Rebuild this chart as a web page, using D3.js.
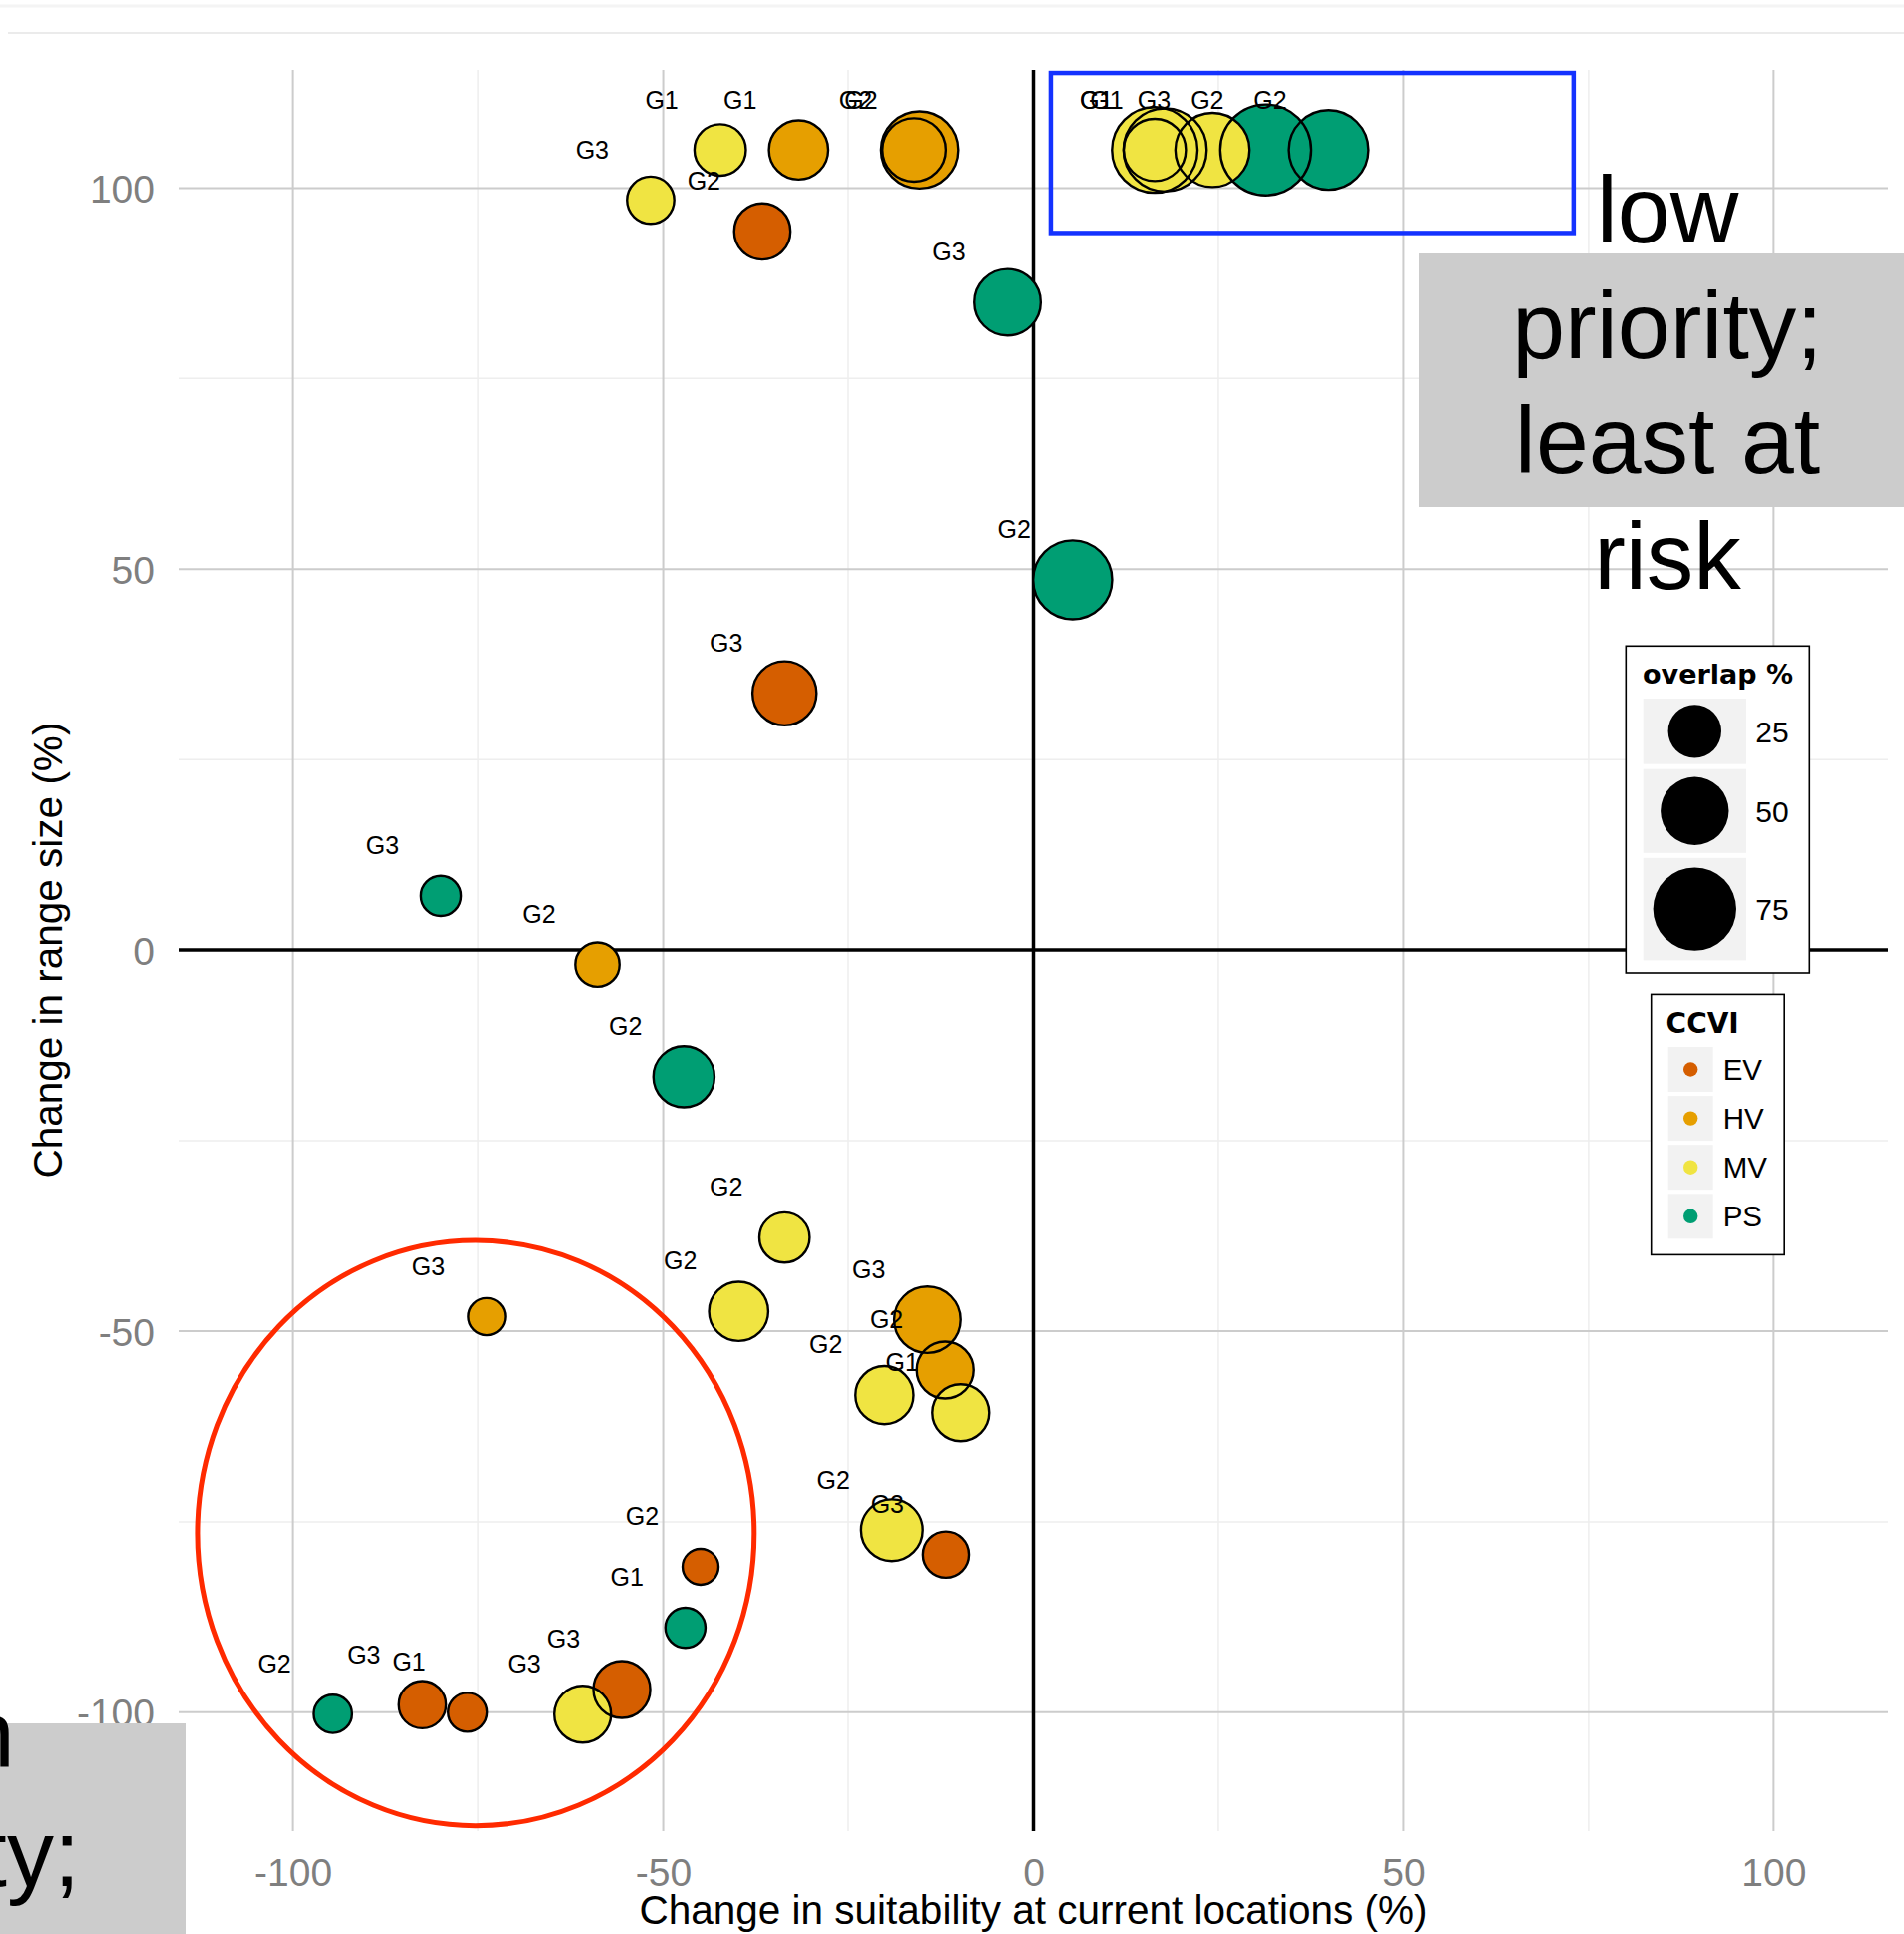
<!DOCTYPE html>
<html><head><meta charset="utf-8">
<script src="https://cdn.jsdelivr.net/npm/d3@7"></script>
<style>body{margin:0;background:#fff;} svg{display:block;}</style>
</head><body>
<svg id="c" width="1908" height="1938"></svg>
<script>
// ---------- data ----------
const suitChange = [-51.7,-42.3,-31.7,-36.6,-15.35,-16.1,-3.5,5.3,-33.6,-80,-58.9,-47.2,-33.6,-39.8,-73.8,-14.3,-11.9,-20.1,-9.8,-19.1,-11.8,-44.95,-47,-55.6,-60.9,-76.4,-82.5,-94.6,39.9,31.4,24.2,17.8,16.4,16.4];
const rangeChange = [98.4,105,105,94.3,105,105,85,48.6,33.7,7.1,-1.9,-16.6,-37.7,-47.4,-48.1,-48.5,-55.1,-58.4,-60.7,-76.1,-79.3,-80.9,-88.9,-97,-100.25,-100,-99,-100.2,105,105,105,105,105,105];
const ccviClass = ["MV","MV","HV","EV","HV","HV","PS","PS","EV","PS","HV","PS","MV","MV","HV","HV","HV","MV","MV","MV","EV","EV","PS","EV","MV","EV","EV","PS","PS","PS","MV","MV","MV","MV"];
const overlapPct = [19,26,39,34,69,46,51,72,47,7,14,42,24,39,2,51,35,37,35,43,17,0,7,35,35,5,19,4,73,92,64,79,83,44];
const groupLabel = ["G3","G1","G1","G2","G2","G2","G3","G2","G3","G3","G2","G2","G2","G2","G3","G3","G2","G2","G1","G2","G3","G2","G1","G3","G3","G1","G3","G2","G2","G2","G3","G1","G1","G1"];

const ccviCategories = ["EV","HV","MV","PS"];
const ccviColors = ["#D55E00","#E69F00","#F0E442","#009E73"];
const sizeBreaks = [25,50,75];
const xTicks = [-100,-50,0,50,100];
const yTicks = [-100,-50,0,50,100];
const xMinor = [-75,-25,25,75];
const yMinor = [-75,-25,25,75];

const lowNote = ["low","priority;","least at","risk"];
const highNote = ["high","priority;","most at","risk"];

// ---------- setup ----------
const FONT = "'Liberation Sans', Arial, Helvetica, sans-serif";
const BOLD = "'DejaVu Sans', Verdana, sans-serif";
const svg = d3.select("#c");
const L = 179, R = 1892, T = 70, B = 1835;
const x = d3.scaleLinear().domain([-115.45, 115.45]).range([L, R]);
const y = d3.scaleLinear().domain([-115.6, 115.5]).range([B, T]);
const rScale = d3.scaleLinear().domain([0, 100]).range([19.2, 49.2]);
const color = d3.scaleOrdinal().domain(ccviCategories).range(ccviColors);
const fmt = d => String(d);

const pts = suitChange.map((v, i) => ({x: v, y: rangeChange[i], c: ccviClass[i], s: overlapPct[i], lab: groupLabel[i]}));

// faint top artifacts
svg.append("line").attr("x1", 0).attr("x2", 1908).attr("y1", 6).attr("y2", 6).attr("stroke", "#f4f4f4").attr("stroke-width", 3);
svg.append("line").attr("x1", 8).attr("x2", 1908).attr("y1", 33).attr("y2", 33).attr("stroke", "#ebebeb").attr("stroke-width", 2);

// ---------- grid ----------
const g = svg.append("g");
g.selectAll(".vmin").data(xMinor).join("line").attr("x1", d => x(d)).attr("x2", d => x(d)).attr("y1", T).attr("y2", B).attr("stroke", "#eeeeee").attr("stroke-width", 1.5);
g.selectAll(".hmin").data(yMinor).join("line").attr("y1", d => y(d)).attr("y2", d => y(d)).attr("x1", L).attr("x2", R).attr("stroke", "#eeeeee").attr("stroke-width", 1.5);
g.selectAll(".vmaj").data(xTicks.filter(d => d !== 0)).join("line").attr("x1", d => x(d)).attr("x2", d => x(d)).attr("y1", T).attr("y2", B).attr("stroke", "#cccccc").attr("stroke-width", 2);
g.selectAll(".hmaj").data(yTicks.filter(d => d !== 0)).join("line").attr("y1", d => y(d)).attr("y2", d => y(d)).attr("x1", L).attr("x2", R).attr("stroke", "#cccccc").attr("stroke-width", 2);
// zero lines
g.append("line").attr("x1", x(0)).attr("x2", x(0)).attr("y1", T).attr("y2", B).attr("stroke", "#000").attr("stroke-width", 3.5);
g.append("line").attr("x1", L).attr("x2", R).attr("y1", y(0)).attr("y2", y(0)).attr("stroke", "#000").attr("stroke-width", 3.5);

// ---------- points: fills, then outlines ----------
svg.append("g").selectAll("circle").data(pts).join("circle")
  .attr("cx", d => x(d.x)).attr("cy", d => y(d.y)).attr("r", d => rScale(d.s) - 1.2)
  .attr("fill", d => color(d.c));
svg.append("g").selectAll("circle").data(pts).join("circle")
  .attr("cx", d => x(d.x)).attr("cy", d => y(d.y)).attr("r", d => rScale(d.s) - 1.2)
  .attr("fill", "none").attr("stroke", "#000").attr("stroke-width", 2.4);

// labels
const nudgeX = -7.9, nudgeY = 6.6;
svg.append("g").selectAll("text").data(pts).join("text")
  .attr("x", d => x(d.x + nudgeX)).attr("y", d => y(d.y + nudgeY)).attr("dy", "0.35em")
  .attr("text-anchor", "middle").attr("font-family", FONT).attr("font-size", 25).attr("fill", "#000")
  .text(d => d.lab);

// ---------- annotations ----------
svg.append("rect").attr("x", x(2.35)).attr("y", y(115.1)).attr("width", x(72.97) - x(2.35)).attr("height", y(94.1) - y(115.1))
  .attr("fill", "none").attr("stroke", "#1432ff").attr("stroke-width", 4.5);
svg.append("ellipse").attr("cx", x(-75.3)).attr("cy", y(-76.5)).attr("rx", x(37.6) - x(0)).attr("ry", y(0) - y(38.4))
  .attr("fill", "none").attr("stroke", "#ff2a00").attr("stroke-width", 5);

// ---------- axes ----------
const yAxis = svg.append("g").attr("transform", "translate(155,0)")
  .call(d3.axisLeft(y).tickValues(yTicks).tickSize(0).tickPadding(0).tickFormat(fmt));
yAxis.select(".domain").remove();
yAxis.selectAll("text").attr("font-family", FONT).attr("font-size", 39).attr("fill", "#7f7f7f").attr("dy", "0.36em");

const xAxis = svg.append("g").attr("transform", "translate(0,0)")
  .call(d3.axisBottom(x).tickValues(xTicks).tickSize(0).tickPadding(0).tickFormat(fmt));
xAxis.select(".domain").remove();
xAxis.selectAll("text").attr("font-family", FONT).attr("font-size", 39).attr("fill", "#7f7f7f").attr("y", 1890).attr("dy", null);

svg.append("text").attr("x", x(0)).attr("y", 1928).attr("text-anchor", "middle")
  .attr("font-family", FONT).attr("font-size", 40.5).attr("fill", "#000")
  .text("Change in suitability at current locations (%)");
svg.append("text").attr("transform", `translate(62,${y(0)}) rotate(-90)`).attr("text-anchor", "middle")
  .attr("font-family", FONT).attr("font-size", 40.5).attr("fill", "#000")
  .text("Change in range size (%)");

// ---------- grey notes ----------
svg.append("rect").attr("x", 1422).attr("y", 254).attr("width", 486).attr("height", 254).attr("fill", "#cccccc");
svg.append("g").selectAll("text").data(lowNote).join("text")
  .attr("x", 1671).attr("y", (d, i) => 243 + i * 115.6).attr("text-anchor", "middle")
  .attr("font-family", FONT).attr("font-size", 95).attr("fill", "#000").text(d => d);

svg.append("rect").attr("x", 0).attr("y", 1727).attr("width", 186).attr("height", 211).attr("fill", "#cccccc");
svg.append("g").selectAll("text").data(highNote).join("text")
  .attr("x", -74).attr("y", (d, i) => 1771 + i * 119).attr("text-anchor", "middle")
  .attr("font-family", FONT).attr("font-size", 94).attr("fill", "#000").text(d => d);

// ---------- size legend ----------
const lg1 = svg.append("g");
lg1.append("rect").attr("x", 1629.3).attr("y", 647.3).attr("width", 184).attr("height", 327.7)
  .attr("fill", "#fff").attr("stroke", "#000").attr("stroke-width", 1.6);
lg1.append("text").attr("x", 1646).attr("y", 685).attr("font-family", BOLD).attr("font-weight", "bold")
  .attr("font-size", 27).attr("fill", "#000").text("overlap %");
let keyTop = 700;
const keyRows = sizeBreaks.map(v => { const h = 2.46 * rScale(v); const row = {v, top: keyTop, h}; keyTop += h + 5; return row; });
lg1.selectAll(".k").data(keyRows).join("rect").attr("x", 1646.7).attr("y", d => d.top).attr("width", 103.3).attr("height", d => d.h).attr("fill", "#f2f2f2");
lg1.selectAll(".kc").data(keyRows).join("circle").attr("cx", 1698.3).attr("cy", d => d.top + d.h / 2).attr("r", d => rScale(d.v)).attr("fill", "#000");
lg1.selectAll(".kt").data(keyRows).join("text").attr("x", 1759.3).attr("y", d => d.top + d.h / 2).attr("dy", "0.36em")
  .attr("font-family", FONT).attr("font-size", 30).attr("fill", "#000").text(d => d.v);

// ---------- color legend ----------
const lg2 = svg.append("g");
lg2.append("rect").attr("x", 1654.7).attr("y", 996.4).attr("width", 133.5).attr("height", 261)
  .attr("fill", "#fff").attr("stroke", "#000").attr("stroke-width", 1.6);
lg2.append("text").attr("x", 1669.6).attr("y", 1035).attr("font-family", BOLD).attr("font-weight", "bold")
  .attr("font-size", 28).attr("fill", "#000").text("CCVI");
const cRows = ccviCategories.map((c, i) => ({c, top: 1049 + i * 49.1}));
lg2.selectAll(".k").data(cRows).join("rect").attr("x", 1671.7).attr("y", d => d.top).attr("width", 45).attr("height", 45).attr("fill", "#f2f2f2");
lg2.selectAll(".kc").data(cRows).join("circle").attr("cx", 1694.2).attr("cy", d => d.top + 22.5).attr("r", 7.2).attr("fill", d => color(d.c));
lg2.selectAll(".kt").data(cRows).join("text").attr("x", 1726.7).attr("y", d => d.top + 22.5).attr("dy", "0.36em")
  .attr("font-family", FONT).attr("font-size", 29.5).attr("fill", "#000").text(d => d.c);
</script>
</body></html>
